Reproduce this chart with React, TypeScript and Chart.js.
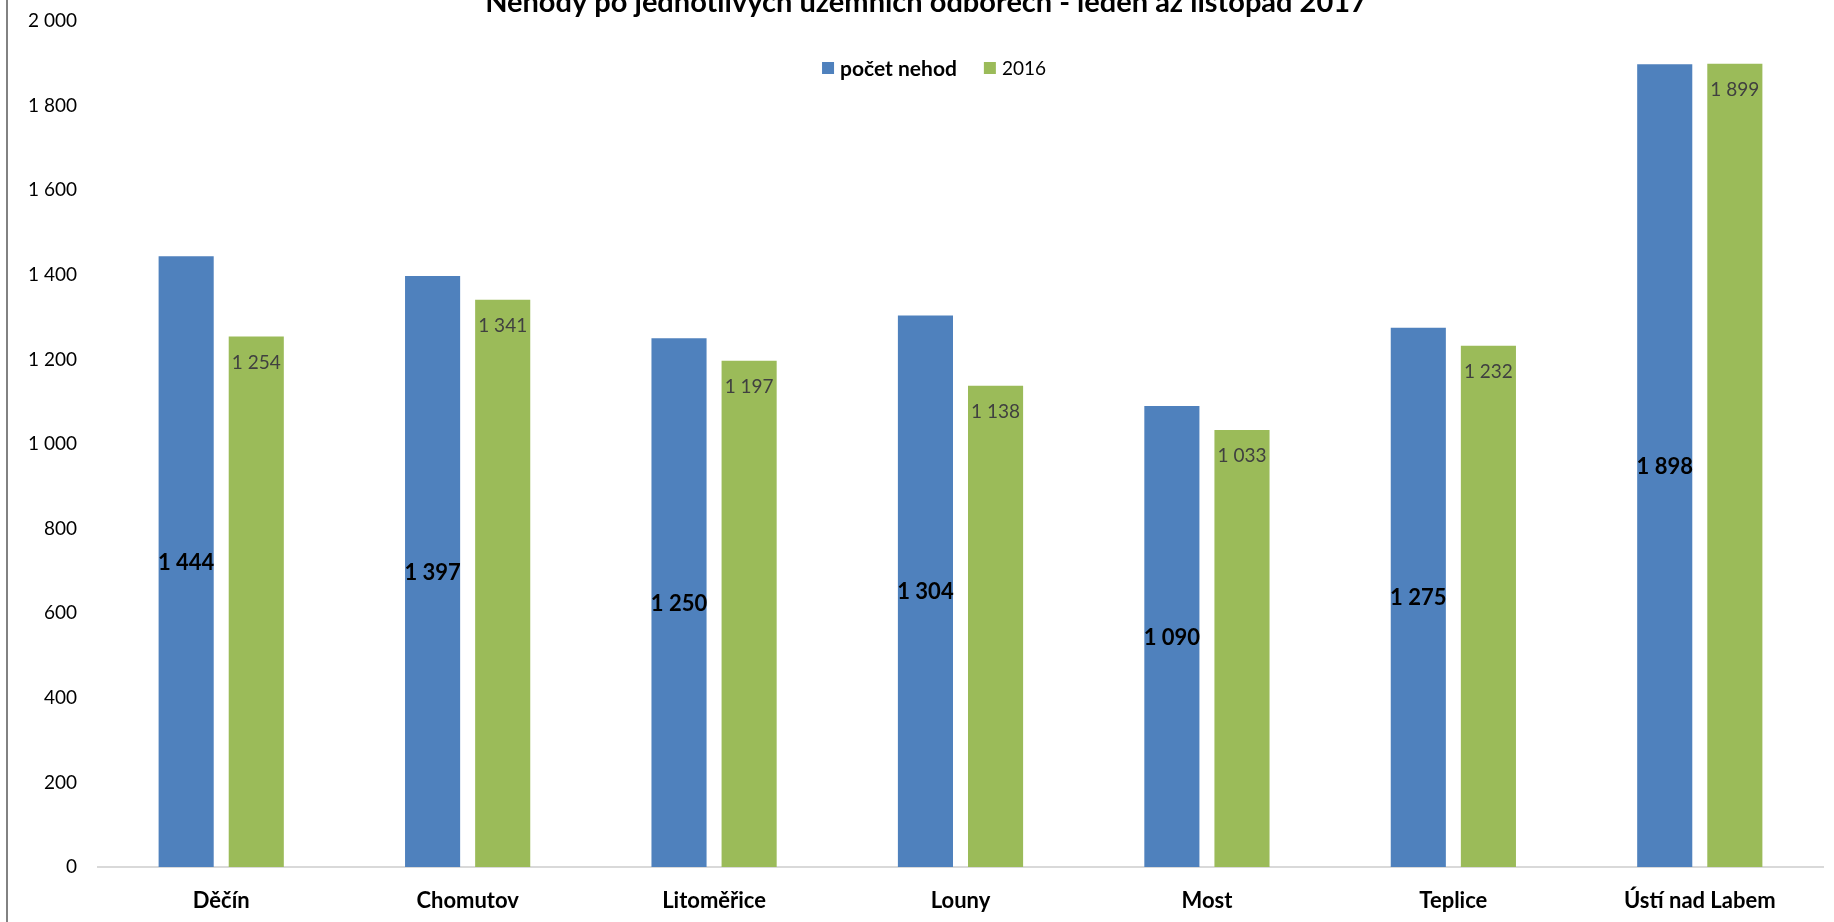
import React, { useEffect, useRef } from "react";
import { Chart, registerables } from "chart.js";

Chart.register(...registerables);

const categories = ["Děčín", "Chomutov", "Litoměřice", "Louny", "Most", "Teplice", "Ústí nad Labem"];
const pocetNehod = [1444, 1397, 1250, 1304, 1090, 1275, 1898];
const rok2016 = [1254, 1341, 1197, 1138, 1033, 1232, 1899];
const seriesNames = ["počet nehod", "2016"];
const seriesColors = ["#4F81BD", "#9BBB59"];
const yMin = 0;
const yMax = 2000;
const yStep = 200;
const titleText = "Nehody po jednotlivých územních odborech - leden až listopad 2017";

const FONT = "Lato, 'Open Sans', sans-serif";

const fmt = (v: number) => String(Math.round(v)).replace(/\B(?=(\d{3})+(?!\d))/g, " ");

const framePlugin = {
  id: "frameAndTitle",
  beforeDraw(chart: any) {
    const { ctx, width, height } = chart;
    ctx.save();
    ctx.fillStyle = "#ffffff";
    ctx.fillRect(0, 0, width, height);
    ctx.strokeStyle = "#595959";
    ctx.lineWidth = 1.5;
    ctx.beginPath();
    ctx.moveTo(7, 0);
    ctx.lineTo(7, height);
    ctx.stroke();
    ctx.restore();
  },
  afterDraw(chart: any) {
    const { ctx } = chart;
    ctx.save();
    ctx.font = `bold 29px ${FONT}`;
    ctx.fillStyle = "#000000";
    ctx.textAlign = "center";
    ctx.textBaseline = "alphabetic";
    ctx.fillText(titleText, 926, 12);
    ctx.restore();
  },
};

const legendPlugin = {
  id: "customLegend",
  afterDraw(chart: any) {
    const { ctx } = chart;
    ctx.save();
    const fonts = [`bold 21px ${FONT}`, `19px ${FONT}`];
    const box = 12;
    const gapText = 6;
    const gapItem = 27;
    let total = 0;
    const widths: number[] = [];
    seriesNames.forEach((n, i) => {
      ctx.font = fonts[i];
      const w = ctx.measureText(n).width;
      widths.push(w);
      total += box + gapText + w + (i < seriesNames.length - 1 ? gapItem : 0);
    });
    let x = 934 - total / 2;
    const cy = 68;
    seriesNames.forEach((n, i) => {
      ctx.fillStyle = seriesColors[i];
      ctx.fillRect(x, cy - box / 2, box, box);
      x += box + gapText;
      ctx.font = fonts[i];
      ctx.fillStyle = "#000000";
      ctx.textAlign = "left";
      ctx.textBaseline = "middle";
      ctx.fillText(n, x, cy + 1);
      x += widths[i] + gapItem;
    });
    ctx.restore();
  },
};

const labelsPlugin = {
  id: "barLabels",
  afterDatasetsDraw(chart: any) {
    const { ctx } = chart;
    ctx.save();
    ctx.textAlign = "center";
    ctx.textBaseline = "middle";
    chart.data.datasets.forEach((ds: any, di: number) => {
      const meta = chart.getDatasetMeta(di);
      meta.data.forEach((el: any, i: number) => {
        const v = ds.data[i] as number;
        if (di === 0) {
          ctx.font = `bold 22px ${FONT}`;
          ctx.fillStyle = "#000000";
          ctx.fillText(fmt(v), el.x, (el.y + el.base) / 2 + 1);
        } else {
          ctx.font = `19px ${FONT}`;
          ctx.fillStyle = "#404040";
          ctx.fillText(fmt(v), el.x, el.y + 26);
        }
      });
    });
    ctx.restore();
  },
};

export default function App() {
  const ref = useRef<HTMLCanvasElement | null>(null);

  useEffect(() => {
    if (!ref.current) return;
    Chart.defaults.font.family = FONT;
    const chart = new Chart(ref.current, {
      type: "bar",
      data: {
        labels: categories,
        datasets: [
          {
            label: seriesNames[0],
            data: pocetNehod,
            backgroundColor: seriesColors[0],
            categoryPercentage: 0.569,
            barPercentage: 0.786,
          },
          {
            label: seriesNames[1],
            data: rok2016,
            backgroundColor: seriesColors[1],
            categoryPercentage: 0.569,
            barPercentage: 0.786,
          },
        ],
      },
      options: {
        animation: false,
        responsive: false,
        maintainAspectRatio: false,
        devicePixelRatio: 1,
        layout: { padding: { top: 21, left: 0, right: 11, bottom: 0 } },
        plugins: {
          legend: { display: false },
          title: { display: false },
          tooltip: { enabled: false },
        },
        scales: {
          x: {
            grid: { display: false, drawTicks: false },
            border: { display: true, color: "#D9D9D9", width: 2 },
            ticks: {
              color: "#000000",
              font: { family: FONT, size: 22, weight: "bold" },
              padding: 21,
              maxRotation: 0,
              autoSkip: false,
            },
            afterFit(scale: any) {
              scale.height = 55;
              scale.paddingLeft = 0;
              scale.paddingRight = 0;
            },
          },
          y: {
            min: yMin,
            max: yMax,
            grid: { display: false, drawTicks: false },
            border: { display: false },
            ticks: {
              stepSize: yStep,
              color: "#000000",
              font: { family: FONT, size: 19 },
              padding: 21,
              callback: (v: any) => fmt(Number(v)),
            },
            afterFit(scale: any) {
              scale.width = 98;
              scale.paddingTop = 0;
              scale.paddingBottom = 0;
            },
          },
        },
      },
      plugins: [framePlugin, legendPlugin, labelsPlugin],
    });
    return () => chart.destroy();
  }, []);

  return (
    <div style={{ position: "fixed", left: 0, top: 0, width: 1834, height: 922, overflow: "hidden", background: "#fff" }}>
      <canvas ref={ref} width={1834} height={922} style={{ display: "block", width: 1834, height: 922 }} />
    </div>
  );
}
